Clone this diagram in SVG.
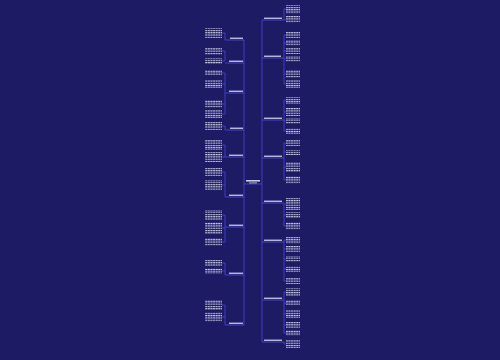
<svg xmlns="http://www.w3.org/2000/svg" width="500" height="360" viewBox="0 0 500 360">
<defs>
<pattern id="txt" width="2.6" height="2.3" patternUnits="userSpaceOnUse"><rect width="2.1" height="1.1" fill="#c4c4e0"/></pattern>
<style>
.bg{fill:#1d1b63}
.c{stroke:#4646d4;stroke-width:0.8;fill:none}
.u{stroke:#5252e0;stroke-width:0.8}
.lab{fill:#c8c8e8}
.blk{fill:url(#txt)}
</style>
</defs>
<rect class="bg" width="500" height="360"/>
<g id="connectors">
<path class="c" d="M262 20V342M244 40V325M244 184H262"/>
<path class="c" d="M262 20H263M262 58H263M262 120H263M262 158H263M262 203H263M262 242H263M262 300H263M262 342H263"/>
<path class="c" d="M283 20H284M284 9V20M284 20H286M284 9H286"/>
<path class="c" d="M283 58H284M284 35V84M284 35H286M284 43H286M284 51H286M284 59H286M284 74H286M284 84H286"/>
<path class="c" d="M283 120H284M284 100V131M284 100H286M284 112H286M284 121H286M284 131H286"/>
<path class="c" d="M283 158H284M284 143V180M284 143H286M284 152H286M284 167H286M284 180H286"/>
<path class="c" d="M283 203H284M284 204V226M284 204H286M284 215H286M284 226H286"/>
<path class="c" d="M283 242H284M284 240V281M284 240H286M284 249H286M284 259H286M284 269H286M284 281H286"/>
<path class="c" d="M283 300H284M284 292V333M284 292H286M284 303H286M284 314H286M284 325H286M284 333H286"/>
<path class="c" d="M283 342H284M284 342V344H286"/>
<path class="c" d="M228 40H225M225 33V40M225 33H222"/>
<path class="c" d="M228 63H225M225 51V61M225 51H222M225 61H222"/>
<path class="c" d="M228 93H225M225 73V114M225 73H222M225 84H222M225 104H222M225 114H222"/>
<path class="c" d="M228 130H225M225 126V130M225 126H222"/>
<path class="c" d="M228 157H225M225 145V157M225 145H222M225 157H222"/>
<path class="c" d="M228 197H225M225 172V197M225 172H222M225 185H222"/>
<path class="c" d="M228 227H225M225 215V242M225 215H222M225 228H222M225 242H222"/>
<path class="c" d="M228 275H225M225 263V275M225 263H222M225 271H222"/>
<path class="c" d="M228 325H225M225 305V325M225 305H222M225 317H222"/>
</g>
<g id="center"><rect class="lab" x="246" y="180" width="14" height="1.6"/><rect class="lab" x="249" y="182.3" width="8" height="1.2" opacity="0.7"/></g>
<g id="r1"><rect class="lab" x="264" y="17.6" width="18" height="1.3"/><line class="u" x1="263" y1="20" x2="283" y2="20"/></g>
<g id="r2"><rect class="lab" x="264" y="55.6" width="17" height="1.3"/><line class="u" x1="263" y1="58" x2="283" y2="58"/></g>
<g id="r3"><rect class="lab" x="264" y="117.6" width="18" height="1.3"/><line class="u" x1="263" y1="120" x2="283" y2="120"/></g>
<g id="r4"><rect class="lab" x="264" y="155.6" width="18" height="1.3"/><line class="u" x1="263" y1="158" x2="283" y2="158"/></g>
<g id="r5"><rect class="lab" x="264" y="200.6" width="18" height="1.3"/><line class="u" x1="263" y1="203" x2="283" y2="203"/></g>
<g id="r6"><rect class="lab" x="264" y="239.6" width="18" height="1.3"/><line class="u" x1="263" y1="242" x2="283" y2="242"/></g>
<g id="r7"><rect class="lab" x="264" y="297.6" width="18" height="1.3"/><line class="u" x1="263" y1="300" x2="283" y2="300"/></g>
<g id="r8"><rect class="lab" x="264" y="339.6" width="18" height="1.3"/><line class="u" x1="263" y1="342" x2="283" y2="342"/></g>
<g id="l1"><rect class="lab" x="230" y="37.6" width="13" height="1.3"/><line class="u" x1="228" y1="40" x2="244" y2="40"/></g>
<g id="l2"><rect class="lab" x="229" y="60.6" width="14" height="1.3"/><line class="u" x1="228" y1="63" x2="244" y2="63"/></g>
<g id="l3"><rect class="lab" x="229" y="90.6" width="14" height="1.3"/><line class="u" x1="228" y1="93" x2="244" y2="93"/></g>
<g id="l4"><rect class="lab" x="230" y="127.6" width="13" height="1.3"/><line class="u" x1="228" y1="130" x2="244" y2="130"/></g>
<g id="l5"><rect class="lab" x="229" y="154.6" width="14" height="1.3"/><line class="u" x1="228" y1="157" x2="244" y2="157"/></g>
<g id="l6"><rect class="lab" x="229" y="194.6" width="14" height="1.3"/><line class="u" x1="228" y1="197" x2="244" y2="197"/></g>
<g id="l7"><rect class="lab" x="229" y="224.6" width="14" height="1.3"/><line class="u" x1="228" y1="227" x2="244" y2="227"/></g>
<g id="l8"><rect class="lab" x="229" y="272.6" width="14" height="1.3"/><line class="u" x1="228" y1="275" x2="244" y2="275"/></g>
<g id="l9"><rect class="lab" x="229" y="322.6" width="14" height="1.3"/><line class="u" x1="228" y1="325" x2="244" y2="325"/></g>
<g id="leaves-right">
<rect class="blk" x="286" y="5" width="14" height="9"/>
<rect class="blk" x="286" y="16" width="14" height="7"/>
<rect class="blk" x="286" y="32" width="14" height="6"/>
<rect class="blk" x="286" y="40" width="14" height="6"/>
<rect class="blk" x="286" y="48" width="14" height="6"/>
<rect class="blk" x="286" y="56" width="14" height="6"/>
<rect class="blk" x="286" y="70" width="14" height="8"/>
<rect class="blk" x="286" y="80" width="14" height="8"/>
<rect class="blk" x="286" y="97" width="14" height="7"/>
<rect class="blk" x="286" y="108" width="14" height="8"/>
<rect class="blk" x="286" y="118" width="14" height="6"/>
<rect class="blk" x="286" y="128" width="14" height="6"/>
<rect class="blk" x="286" y="140" width="14" height="6"/>
<rect class="blk" x="286" y="150" width="14" height="5"/>
<rect class="blk" x="286" y="162" width="14" height="10"/>
<rect class="blk" x="286" y="176" width="14" height="8"/>
<rect class="blk" x="286" y="198" width="14" height="12"/>
<rect class="blk" x="286" y="212" width="14" height="6"/>
<rect class="blk" x="286" y="222" width="14" height="8"/>
<rect class="blk" x="286" y="236" width="14" height="8"/>
<rect class="blk" x="286" y="246" width="14" height="6"/>
<rect class="blk" x="286" y="256" width="14" height="6"/>
<rect class="blk" x="286" y="266" width="14" height="6"/>
<rect class="blk" x="286" y="278" width="14" height="6"/>
<rect class="blk" x="286" y="288" width="14" height="8"/>
<rect class="blk" x="286" y="300" width="14" height="6"/>
<rect class="blk" x="286" y="310" width="14" height="8"/>
<rect class="blk" x="286" y="322" width="14" height="6"/>
<rect class="blk" x="286" y="330" width="14" height="6"/>
<rect class="blk" x="286" y="340" width="14" height="8"/>
</g>
<g id="leaves-left">
<rect class="blk" x="205" y="28" width="17" height="10"/>
<rect class="blk" x="205" y="48" width="17" height="7"/>
<rect class="blk" x="205" y="58" width="17" height="6"/>
<rect class="blk" x="205" y="70" width="17" height="6"/>
<rect class="blk" x="205" y="80" width="17" height="8"/>
<rect class="blk" x="205" y="100" width="17" height="8"/>
<rect class="blk" x="205" y="110" width="17" height="8"/>
<rect class="blk" x="205" y="122" width="17" height="8"/>
<rect class="blk" x="205" y="140" width="17" height="10"/>
<rect class="blk" x="205" y="152" width="17" height="10"/>
<rect class="blk" x="205" y="168" width="17" height="8"/>
<rect class="blk" x="205" y="180" width="17" height="10"/>
<rect class="blk" x="205" y="210" width="17" height="10"/>
<rect class="blk" x="205" y="222" width="17" height="12"/>
<rect class="blk" x="205" y="238" width="17" height="8"/>
<rect class="blk" x="205" y="260" width="17" height="6"/>
<rect class="blk" x="205" y="268" width="17" height="6"/>
<rect class="blk" x="205" y="300" width="17" height="10"/>
<rect class="blk" x="205" y="312" width="17" height="10"/>
</g>
</svg>
